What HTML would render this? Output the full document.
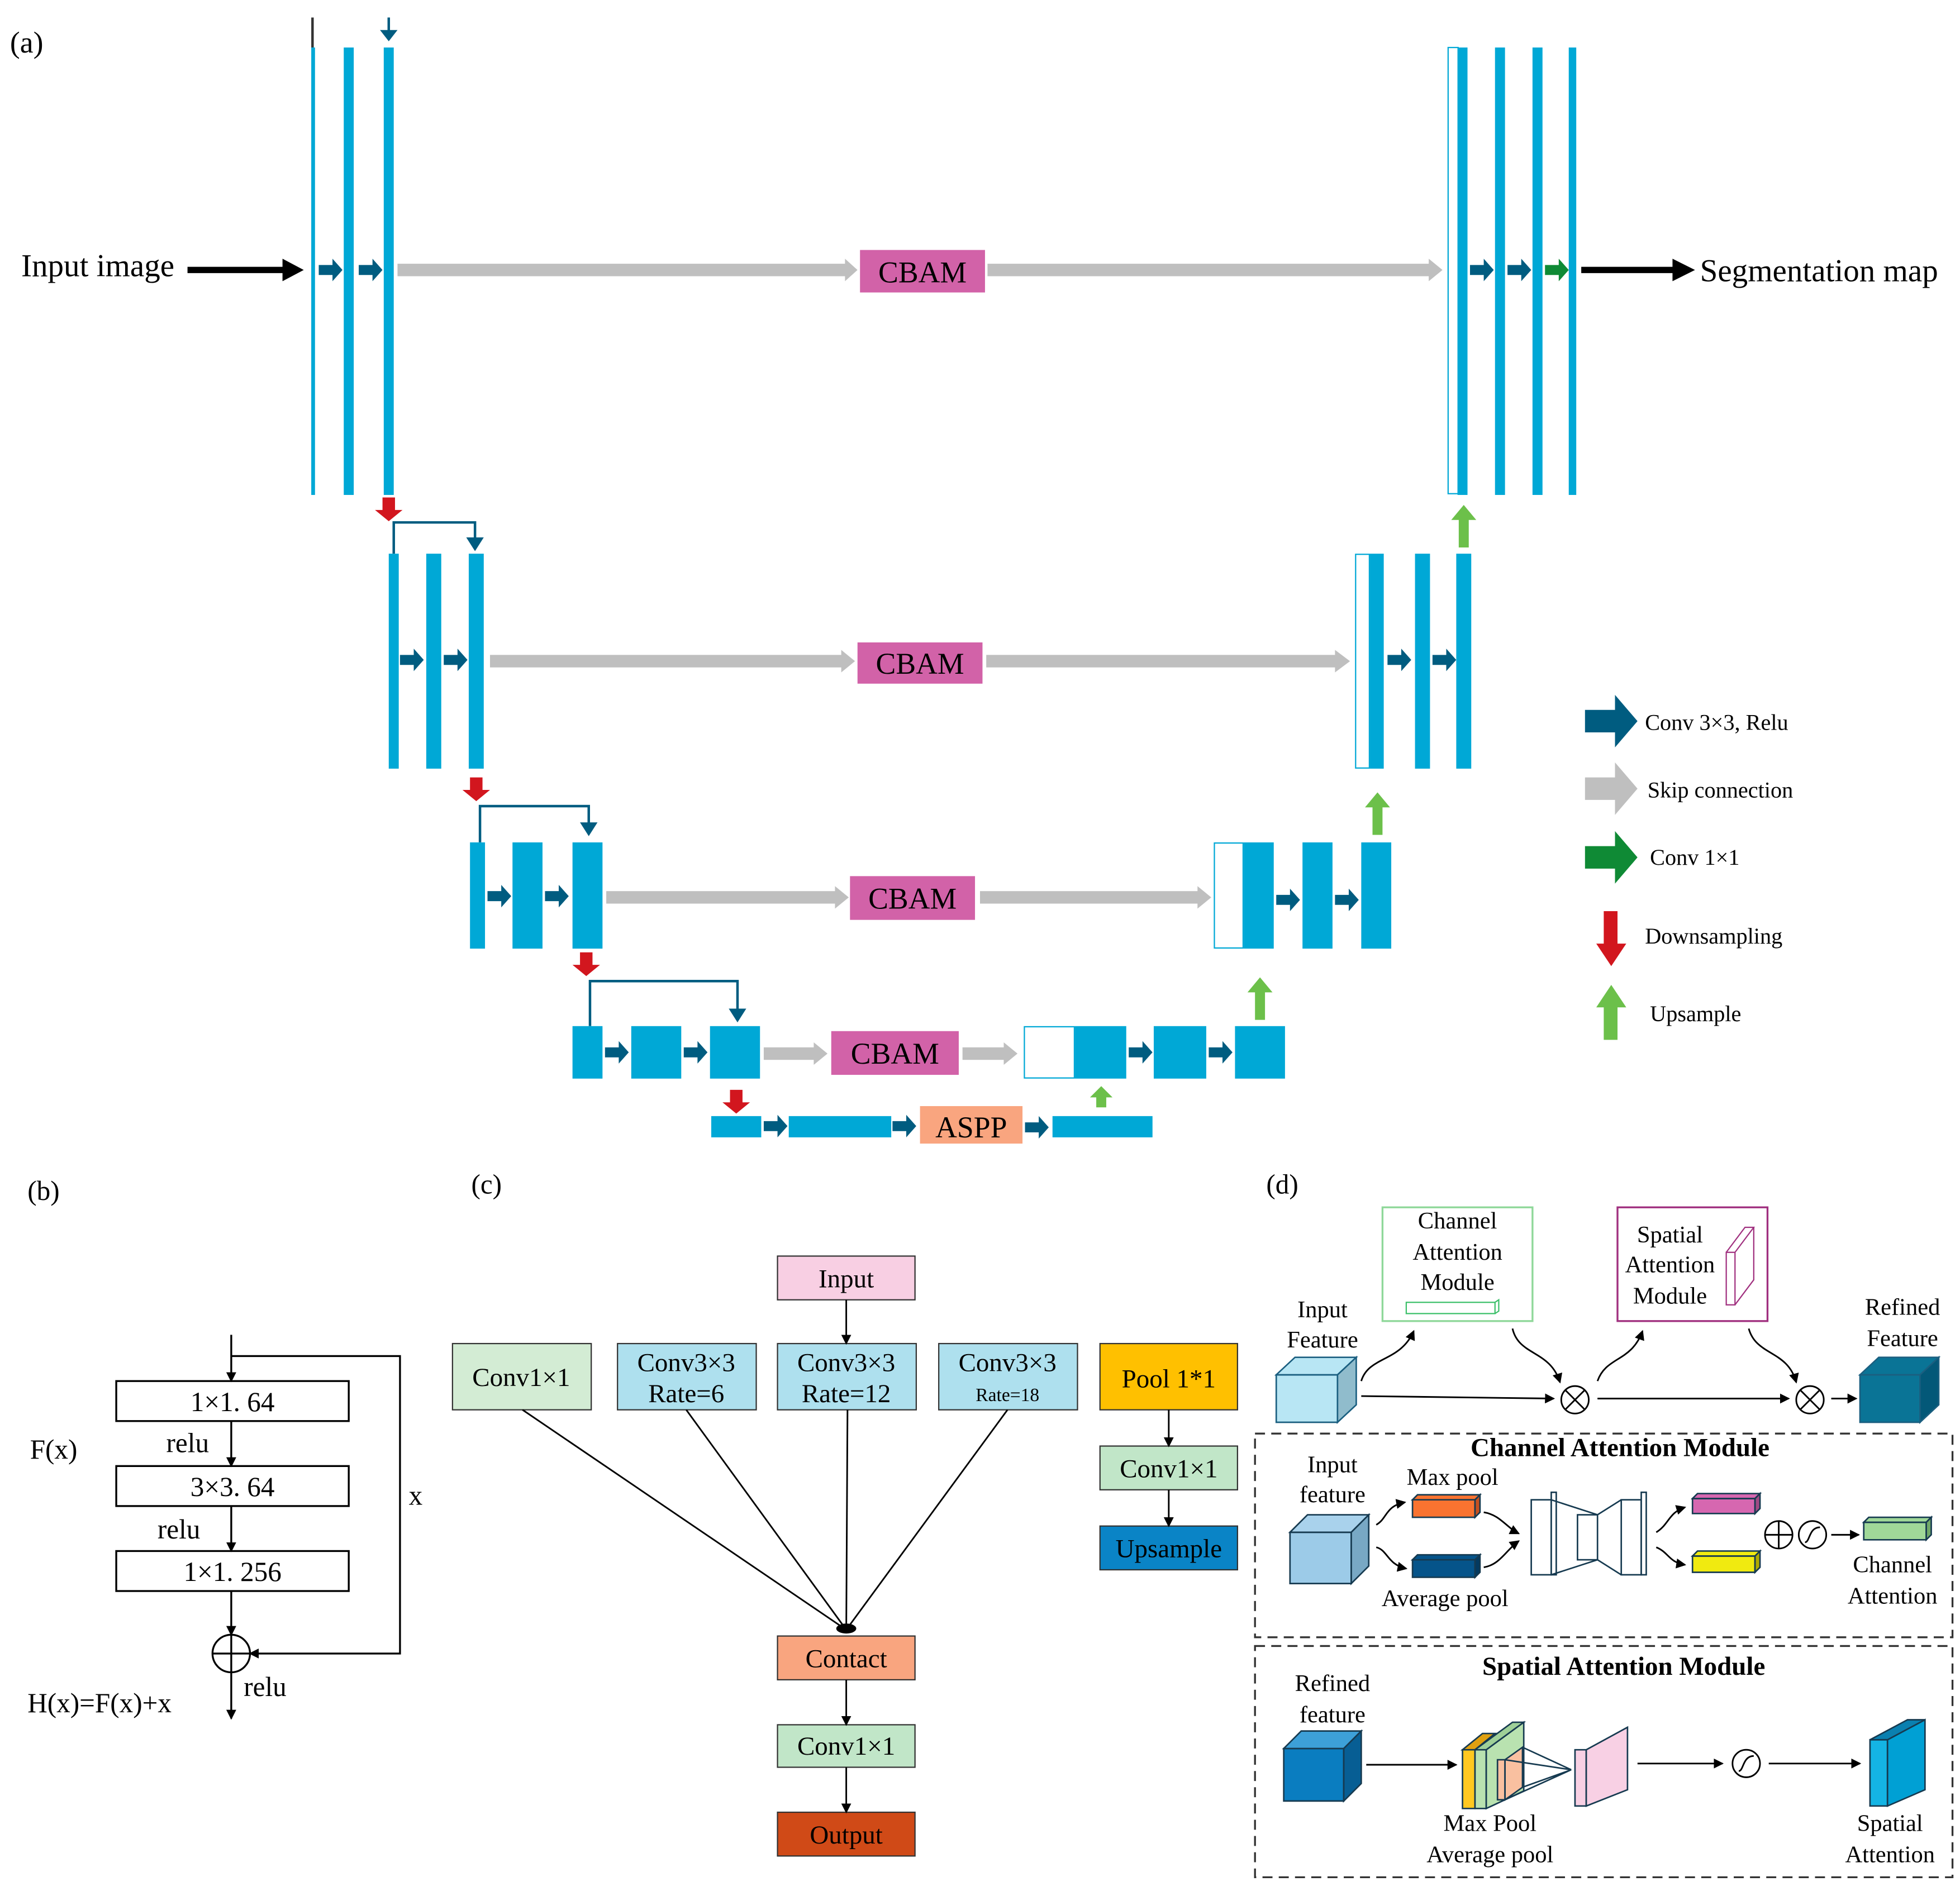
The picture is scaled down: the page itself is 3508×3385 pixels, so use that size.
<!DOCTYPE html>
<html><head><meta charset="utf-8"><style>html,body{margin:0;padding:0;background:#fff}svg{display:block}</style></head><body>
<svg width="3508" height="3385" viewBox="0 0 1568 1513" xmlns="http://www.w3.org/2000/svg" font-family="Liberation Serif, serif">
<defs>
<marker id="ak" markerWidth="8" markerHeight="8" refX="7" refY="4" orient="auto" markerUnits="userSpaceOnUse"><path d="M0,0 L8,4 L0,8z" fill="#000"/></marker>
<g id="da"><path d="M0,-4 h11 v-5 l8,9 l-8,9 v-5 h-11z" fill="#005c80"/></g>
<g id="ga"><path d="M0,-4 h11 v-5 l8,9 l-8,9 v-5 h-11z" fill="#0f8a35"/></g>
<g id="rd"><path d="M-5,0 h10 v10 h6 l-11,9 l-11,-9 h6z" fill="#d2161e"/></g>
<g id="gu"><path d="M-4,0 v-22 h-6 l10,-12 l10,12 h-6 v22z" fill="#6cc04a"/></g>
</defs>
<g font-size="25.5">
<text x="8" y="42" font-size="24">(a)</text>
<text x="17" y="221">Input image</text>
<text x="1360" y="225">Segmentation map</text>
</g>
<line x1="150" y1="216" x2="228" y2="216" stroke="#000" stroke-width="5"/><path d="M226,207 L243,216 L226,225z"/>
<line x1="1265" y1="216" x2="1340" y2="216" stroke="#000" stroke-width="5"/><path d="M1338,207 L1356,216 L1338,225z"/>
<line x1="250" y1="14" x2="250" y2="38" stroke="#333" stroke-width="2"/>
<rect x="249" y="38" width="3" height="358" fill="#00a8d6"/>
<rect x="275" y="38" width="8" height="358" fill="#00a8d6"/>
<rect x="307" y="38" width="8" height="358" fill="#00a8d6"/>
<line x1="311" y1="14" x2="311" y2="25" stroke="#005c80" stroke-width="2"/><path d="M304,24 L318,24 L311,33z" fill="#005c80"/>
<use href="#da" x="255" y="216"/><use href="#da" x="287" y="216"/>
<rect x="318" y="211" width="360" height="10" fill="#bfbfbf"/><path d="M676,207 L686,216 L676,225z" fill="#bfbfbf"/>
<rect x="688" y="200" width="100" height="34" fill="#d262a8"/><text x="738" y="226" font-size="24" text-anchor="middle">CBAM</text>
<rect x="790" y="211" width="355" height="10" fill="#bfbfbf"/><path d="M1143,207 L1154,216 L1143,225z" fill="#bfbfbf"/>
<rect x="1158.5" y="38" width="8" height="357" fill="#fff" stroke="#00a8d6" stroke-width="1"/>
<rect x="1166" y="38" width="8" height="358" fill="#00a8d6"/>
<rect x="1196" y="38" width="8" height="358" fill="#00a8d6"/>
<rect x="1226" y="38" width="8" height="358" fill="#00a8d6"/>
<rect x="1255" y="38" width="6" height="358" fill="#00a8d6"/>
<use href="#da" x="1176" y="216"/><use href="#da" x="1206" y="216"/><use href="#ga" x="1236" y="216"/>
<use href="#rd" x="311" y="398"/>
<path d="M315,443 V418 H380 V432" fill="none" stroke="#005c80" stroke-width="2"/><path d="M373,430 L387,430 L380,441z" fill="#005c80"/>
<rect x="311" y="443" width="8" height="172" fill="#00a8d6"/>
<rect x="341" y="443" width="12" height="172" fill="#00a8d6"/>
<rect x="375" y="443" width="12" height="172" fill="#00a8d6"/>
<use href="#da" x="320" y="528"/><use href="#da" x="355" y="528"/>
<rect x="392" y="524" width="283" height="10" fill="#bfbfbf"/><path d="M673,520 L684,529 L673,538z" fill="#bfbfbf"/>
<rect x="686" y="514" width="100" height="33" fill="#d262a8"/><text x="736" y="539" font-size="24" text-anchor="middle">CBAM</text>
<rect x="789" y="524" width="281" height="10" fill="#bfbfbf"/><path d="M1068,520 L1080,529 L1068,538z" fill="#bfbfbf"/>
<rect x="1084.5" y="443.5" width="11" height="171" fill="#fff" stroke="#00a8d6"/>
<rect x="1096" y="443" width="11" height="172" fill="#00a8d6"/>
<rect x="1132" y="443" width="12" height="172" fill="#00a8d6"/>
<rect x="1165" y="443" width="12" height="172" fill="#00a8d6"/>
<use href="#da" x="1110" y="528"/><use href="#da" x="1146" y="528"/>
<use href="#gu" x="1171" y="438"/>
<use href="#rd" x="381" y="622"/>
<path d="M384,674 V645 H471 V660" fill="none" stroke="#005c80" stroke-width="2"/><path d="M464,658 L478,658 L471,669z" fill="#005c80"/>
<rect x="376" y="674" width="12" height="85" fill="#00a8d6"/>
<rect x="410" y="674" width="24" height="85" fill="#00a8d6"/>
<rect x="458" y="674" width="24" height="85" fill="#00a8d6"/>
<use href="#da" x="390" y="717"/><use href="#da" x="436" y="717"/>
<rect x="485" y="713" width="185" height="10" fill="#bfbfbf"/><path d="M668,709 L679,718 L668,727z" fill="#bfbfbf"/>
<rect x="680" y="701" width="100" height="35" fill="#d262a8"/><text x="730" y="727" font-size="24" text-anchor="middle">CBAM</text>
<rect x="784" y="713" width="176" height="10" fill="#bfbfbf"/><path d="M958,709 L969,718 L958,727z" fill="#bfbfbf"/>
<rect x="971.5" y="674.5" width="23" height="84" fill="#fff" stroke="#00a8d6"/>
<rect x="995" y="674" width="24" height="85" fill="#00a8d6"/>
<rect x="1042" y="674" width="24" height="85" fill="#00a8d6"/>
<rect x="1089" y="674" width="24" height="85" fill="#00a8d6"/>
<use href="#da" x="1021" y="720"/><use href="#da" x="1068" y="720"/>
<use href="#gu" x="1102" y="668"/>
<use href="#rd" x="469" y="762"/>
<path d="M472,821 V785 H590 V808" fill="none" stroke="#005c80" stroke-width="2"/><path d="M583,807 L597,807 L590,818z" fill="#005c80"/>
<rect x="458" y="821" width="24" height="42" fill="#00a8d6"/>
<rect x="505" y="821" width="40" height="42" fill="#00a8d6"/>
<rect x="568" y="821" width="40" height="42" fill="#00a8d6"/>
<use href="#da" x="484" y="842"/><use href="#da" x="547" y="842"/>
<rect x="611" y="838" width="42" height="10" fill="#bfbfbf"/><path d="M651,834 L662,843 L651,852z" fill="#bfbfbf"/>
<rect x="665" y="825" width="102" height="35" fill="#d262a8"/><text x="716" y="851" font-size="24" text-anchor="middle">CBAM</text>
<rect x="770" y="838" width="35" height="10" fill="#bfbfbf"/><path d="M803,834 L814,843 L803,852z" fill="#bfbfbf"/>
<rect x="819.5" y="821.5" width="40" height="41" fill="#fff" stroke="#00a8d6"/>
<rect x="860" y="821" width="41" height="42" fill="#00a8d6"/>
<rect x="923" y="821" width="42" height="42" fill="#00a8d6"/>
<rect x="988" y="821" width="40" height="42" fill="#00a8d6"/>
<use href="#da" x="903" y="842"/><use href="#da" x="967" y="842"/>
<use href="#gu" x="1008" y="816"/>
<use href="#rd" x="589" y="872"/>
<rect x="569" y="893" width="40" height="17" fill="#00a8d6"/>
<use href="#da" x="611" y="901"/>
<rect x="631" y="893" width="82" height="17" fill="#00a8d6"/>
<use href="#da" x="714" y="901"/>
<rect x="736" y="885" width="82" height="30" fill="#f9a57f"/><text x="777" y="910" font-size="24" text-anchor="middle">ASPP</text>
<use href="#da" x="820" y="902"/>
<rect x="842" y="893" width="80" height="17" fill="#00a8d6"/>
<path d="M877,886 v-8 h-5 l9,-9 l9,9 h-5 v8z" fill="#6cc04a"/>
<path d="M1268,568 h24 v-12 l18,21 l-18,21 v-12 h-24z" fill="#005c80"/>
<path d="M1268,622 h24 v-12 l18,21 l-18,21 v-12 h-24z" fill="#bfbfbf"/>
<path d="M1268,677 h24 v-12 l18,21 l-18,21 v-12 h-24z" fill="#0f8a35"/>
<path d="M1283,729 h11 v26 h7 l-12,18 l-12,-18 h6z" fill="#d2161e"/>
<path d="M1283,832 h11 v-26 h7 l-12,-18 l-12,18 h6z" fill="#6cc04a"/>
<g font-size="18">
<text x="1316" y="584">Conv 3×3, Relu</text>
<text x="1318" y="638">Skip connection</text>
<text x="1320" y="692">Conv 1×1</text>
<text x="1316" y="755">Downsampling</text>
<text x="1320" y="817">Upsample</text>
</g>
<g font-size="22">
<text x="22" y="960">(b)</text>
<text x="24" y="1167">F(x)</text>
<text x="133" y="1162">relu</text>
<text x="126" y="1231">relu</text>
<text x="327" y="1204">x</text>
<text x="195" y="1357">relu</text>
<text x="22" y="1370">H(x)=F(x)+x</text>
</g>
<g fill="#fff" stroke="#000" stroke-width="1.5">
<rect x="93" y="1105" width="186" height="32"/><rect x="93" y="1173" width="186" height="32"/><rect x="93" y="1241" width="186" height="32"/>
</g>
<g font-size="22" text-anchor="middle"><text x="186" y="1129">1×1. 64</text><text x="186" y="1197">3×3. 64</text><text x="186" y="1265">1×1. 256</text></g>
<g stroke="#000" stroke-width="1.5" fill="none">
<line x1="185" y1="1068" x2="185" y2="1105" marker-end="url(#ak)"/>
<line x1="185" y1="1137" x2="185" y2="1173" marker-end="url(#ak)"/>
<line x1="185" y1="1205" x2="185" y2="1241" marker-end="url(#ak)"/>
<line x1="185" y1="1273" x2="185" y2="1308" marker-end="url(#ak)"/>
<line x1="185" y1="1338" x2="185" y2="1375" marker-end="url(#ak)"/>
<path d="M185,1085 H320 V1323 H200" marker-end="url(#ak)"/>
<circle cx="185" cy="1323" r="15"/><line x1="170" y1="1323" x2="200" y2="1323"/><line x1="185" y1="1308" x2="185" y2="1338"/>
</g>
<text x="377" y="955" font-size="22">(c)</text>
<g stroke="#333" stroke-width="1">
<rect x="622" y="1005" width="110" height="35" fill="#f8cfe3"/>
<rect x="362" y="1075" width="111" height="53" fill="#d3ecd4"/>
<rect x="494" y="1075" width="111" height="53" fill="#aee0ee"/>
<rect x="622" y="1075" width="111" height="53" fill="#aee0ee"/>
<rect x="751" y="1075" width="111" height="53" fill="#aee0ee"/>
<rect x="880" y="1075" width="110" height="53" fill="#ffc000"/>
<rect x="880" y="1157" width="110" height="35" fill="#c1e6c8"/>
<rect x="880" y="1221" width="110" height="35" fill="#0a84c6"/>
<rect x="622" y="1309" width="110" height="35" fill="#f9a57f"/>
<rect x="622" y="1380" width="110" height="34" fill="#c1e6c8"/>
<rect x="622" y="1450" width="110" height="35" fill="#d04a17"/>
</g>
<g font-size="21" text-anchor="middle">
<text x="677" y="1030">Input</text>
<text x="417" y="1109">Conv1×1</text>
<text x="549" y="1097">Conv3×3</text><text x="549" y="1122">Rate=6</text>
<text x="677" y="1097">Conv3×3</text><text x="677" y="1122">Rate=12</text>
<text x="806" y="1097">Conv3×3</text><text x="806" y="1121" font-size="15">Rate=18</text>
<text x="935" y="1110">Pool 1*1</text>
<text x="935" y="1182">Conv1×1</text>
<text x="935" y="1246">Upsample</text>
<text x="677" y="1334">Contact</text>
<text x="677" y="1404">Conv1×1</text>
<text x="677" y="1475">Output</text>
</g>
<g stroke="#000" stroke-width="1.3" fill="none">
<line x1="677" y1="1040" x2="677" y2="1075" marker-end="url(#ak)"/>
<line x1="418" y1="1128" x2="677" y2="1304"/>
<line x1="549" y1="1128" x2="677" y2="1304"/>
<line x1="678" y1="1128" x2="677" y2="1304"/>
<line x1="806" y1="1128" x2="677" y2="1304"/>
<line x1="935" y1="1128" x2="935" y2="1157" marker-end="url(#ak)"/>
<line x1="935" y1="1192" x2="935" y2="1221" marker-end="url(#ak)"/>
<line x1="677" y1="1344" x2="677" y2="1380" marker-end="url(#ak)"/>
<line x1="677" y1="1414" x2="677" y2="1450" marker-end="url(#ak)"/>
</g>
<ellipse cx="677" cy="1303" rx="8" ry="4"/>
<text x="1013" y="955" font-size="22">(d)</text>
<rect x="1106" y="966" width="120" height="91" fill="none" stroke="#8fd89a" stroke-width="1.5"/>
<rect x="1294" y="966" width="120" height="91" fill="none" stroke="#a0307f" stroke-width="1.5"/>
<g font-size="19" text-anchor="middle">
<text x="1166" y="983">Channel</text><text x="1166" y="1008">Attention</text><text x="1166" y="1032">Module</text>
<text x="1336" y="994">Spatial</text><text x="1336" y="1018">Attention</text><text x="1336" y="1043">Module</text>
<text x="1058" y="1054">Input</text><text x="1058" y="1078">Feature</text>
<text x="1522" y="1052">Refined</text><text x="1522" y="1077">Feature</text>
</g>
<path d="M1125,1042 h71 v9 h-71z M1196,1042 l3,-2 v9 l-3,2" fill="#fff" stroke="#3cc06a"/>
<path d="M1381,1002 h7 v42 h-7z M1381,1002 l15,-20 h7 l-15,20 M1388,1044 l15,-20 v-42" fill="#fff" stroke="#a0307f"/>
<g stroke="#1b5f80" stroke-width="1.2">
<path d="M1021,1100 h49 v38 h-49z" fill="#b8e6f4"/><path d="M1021,1100 l15,-14 h49 l-15,14z" fill="#b8e6f4"/><path d="M1070,1100 l15,-14 v38 l-15,14z" fill="#90bccc"/>
<path d="M1488,1100 h48 v38 h-48z" fill="#0a7496"/><path d="M1488,1100 l15,-14 h48 l-15,14z" fill="#0a7496"/><path d="M1536,1100 l15,-14 v38 l-15,14z" fill="#035878"/>
</g>
<g stroke="#000" stroke-width="1.3" fill="none">
<line x1="1089" y1="1117" x2="1243" y2="1119" marker-end="url(#ak)"/>
<line x1="1278" y1="1119" x2="1431" y2="1119" marker-end="url(#ak)"/>
<line x1="1465" y1="1119" x2="1485" y2="1119" marker-end="url(#ak)"/>
<path d="M1089,1105 C1095,1085 1120,1090 1131,1065" marker-end="url(#ak)"/>
<path d="M1210,1063 C1215,1085 1240,1080 1248,1106" marker-end="url(#ak)"/>
<path d="M1278,1105 C1285,1085 1305,1090 1314,1065" marker-end="url(#ak)"/>
<path d="M1399,1063 C1405,1085 1430,1080 1437,1106" marker-end="url(#ak)"/>
<circle cx="1260" cy="1120" r="11"/><path d="M1252,1112 l16,16 M1268,1112 l-16,16"/>
<circle cx="1448" cy="1120" r="11"/><path d="M1440,1112 l16,16 M1456,1112 l-16,16"/>
</g>
<rect x="1004" y="1147" width="558" height="163" fill="none" stroke="#333" stroke-width="1.5" stroke-dasharray="8,5"/>
<rect x="1004" y="1317" width="558" height="185" fill="none" stroke="#333" stroke-width="1.5" stroke-dasharray="8,5"/>
<g font-size="21" font-weight="bold" text-anchor="middle"><text x="1296" y="1165">Channel Attention Module</text><text x="1299" y="1340">Spatial Attention Module</text></g>
<g font-size="19" text-anchor="middle">
<text x="1066" y="1178">Input</text><text x="1066" y="1202">feature</text>
<text x="1162" y="1188">Max pool</text>
<text x="1156" y="1285">Average pool</text>
<text x="1514" y="1258">Channel</text><text x="1514" y="1283">Attention</text>
<text x="1066" y="1353">Refined</text><text x="1066" y="1378">feature</text>
<text x="1192" y="1465">Max Pool</text><text x="1192" y="1490">Average pool</text>
<text x="1512" y="1465">Spatial</text><text x="1512" y="1490">Attention</text>
</g>
<g stroke="#163a50" stroke-width="1.2">
<path d="M1032,1226 h49 v41 h-49z" fill="#9ccbe8"/><path d="M1032,1226 l14,-14 h49 l-14,14z" fill="#a9d2ec"/><path d="M1081,1226 l14,-14 v41 l-14,14z" fill="#78a8c4"/>
<path d="M1130,1200 h50 v14 h-50z" fill="#f97330"/><path d="M1130,1200 l4,-4 h50 l-4,4z" fill="#f97330"/><path d="M1180,1200 l4,-4 v14 l-4,4z" fill="#c55020"/>
<path d="M1130,1248 h50 v14 h-50z" fill="#05548a"/><path d="M1130,1248 l4,-4 h50 l-4,4z" fill="#05548a"/><path d="M1180,1248 l4,-4 v14 l-4,4z" fill="#033a60"/>
<path d="M1354,1199 h50 v12 h-50z" fill="#d667b0"/><path d="M1354,1199 l4,-4 h50 l-4,4z" fill="#d667b0"/><path d="M1404,1199 l4,-4 v12 l-4,4z" fill="#a04a84"/>
<path d="M1354,1245 h50 v13 h-50z" fill="#f0ea10"/><path d="M1354,1245 l4,-4 h50 l-4,4z" fill="#f0ea10"/><path d="M1404,1245 l4,-4 v13 l-4,4z" fill="#b0aa00"/>
<path d="M1491,1218 h50 v14 h-50z" fill="#a0d898"/><path d="M1491,1218 l4,-4 h50 l-4,4z" fill="#a0d898"/><path d="M1541,1218 l4,-4 v14 l-4,4z" fill="#70a868"/>
<g fill="#fff"><rect x="1225" y="1200" width="16" height="60"/><rect x="1241" y="1194" width="4" height="66"/><rect x="1262" y="1212" width="16" height="36"/><rect x="1297" y="1200" width="16" height="60"/><rect x="1313" y="1194" width="4" height="66"/></g>
<path d="M1241,1200 L1278,1212 L1297,1200 M1241,1260 L1278,1248 L1297,1260" fill="none"/>
<path d="M1027,1399 h48 v42 h-48z" fill="#0a7dc0"/><path d="M1027,1399 l14,-14 h48 l-14,14z" fill="#3da0d8"/><path d="M1075,1399 l14,-14 v42 l-14,14z" fill="#075e94"/>
<path d="M1170,1400 h10 v47 h-10z" fill="#ffc820"/><path d="M1170,1400 l16,-13 h10 l-16,13z" fill="#e0a010"/>
<path d="M1180,1400 h9 v47 h-9z" fill="#b9e2b0"/><path d="M1189,1400 l30,-22 v55 l-30,14z" fill="#b9e2b0"/><path d="M1180,1400 l30,-22 h9 l-30,22z" fill="#9fd098"/>
<path d="M1198,1408 h6 v32 h-6z" fill="#f9c0a0"/><path d="M1204,1408 l14,-10 v32 l-14,10z" fill="#f9c0a0"/>
<path d="M1218,1398 L1257,1416 M1218,1430 L1257,1416 M1204,1408 L1257,1416 M1204,1440 L1257,1416" fill="none"/>
<path d="M1260,1400 h9 v45 h-9z" fill="#f8d0e4"/><path d="M1269,1400 l33,-18 v50 l-33,13z" fill="#f8d0e4"/>
<path d="M1496,1392 h14 v53 h-14z" fill="#14b4e4"/><path d="M1510,1392 l30,-16 v56 l-30,13z" fill="#00a0d4"/><path d="M1496,1392 l30,-16 h14 l-30,16z" fill="#0a80b0"/>
</g>
<g stroke="#000" stroke-width="1.3" fill="none">
<path d="M1101,1220 C1110,1215 1108,1205 1124,1202" marker-end="url(#ak)"/>
<path d="M1101,1238 C1110,1240 1110,1252 1125,1255" marker-end="url(#ak)"/>
<path d="M1187,1210 C1200,1212 1205,1222 1215,1227" marker-end="url(#ak)"/>
<path d="M1187,1254 C1200,1252 1205,1240 1215,1233" marker-end="url(#ak)"/>
<path d="M1325,1226 C1335,1220 1335,1210 1348,1206" marker-end="url(#ak)"/>
<path d="M1325,1238 C1335,1242 1335,1250 1348,1252" marker-end="url(#ak)"/>
<circle cx="1423" cy="1228" r="11"/><path d="M1412,1228 h22 M1423,1217 v22"/>
<circle cx="1450" cy="1228" r="11"/><path d="M1444,1234 c4,0 3,-12 12,-12"/>
<line x1="1465" y1="1228" x2="1487" y2="1228" marker-end="url(#ak)"/>
<line x1="1093" y1="1412" x2="1165" y2="1412" marker-end="url(#ak)"/>
<line x1="1310" y1="1411" x2="1378" y2="1411" marker-end="url(#ak)"/>
<circle cx="1397" cy="1411" r="11"/><path d="M1391,1417 c4,0 3,-12 12,-12"/>
<line x1="1415" y1="1411" x2="1488" y2="1411" marker-end="url(#ak)"/>
</g>
</svg>
</body></html>
